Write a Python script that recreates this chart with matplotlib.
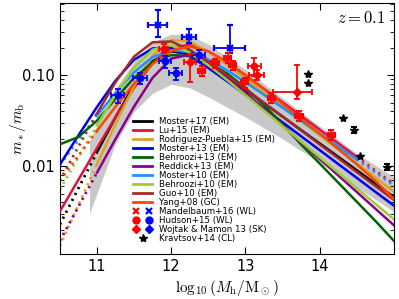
import numpy as np
import matplotlib
matplotlib.use("Agg")
import matplotlib.pyplot as plt
from matplotlib.lines import Line2D
from matplotlib.legend_handler import HandlerTuple
from matplotlib.ticker import FixedLocator, FixedFormatter, LogLocator, NullFormatter

plt.rcParams['mathtext.fontset'] = 'cm'

# halo mass grid, log10(Mh/Msun)
log_mh = [10.5, 10.75, 11.0, 11.25, 11.5, 11.75, 12.0, 12.25, 12.5, 12.75,
          13.0, 13.25, 13.5, 13.75, 14.0, 14.25, 14.5, 14.75, 15.0]

# log10(m*/mb) of each model
moster17 = [-2.642, -2.243, -1.847, -1.462, -1.110, -0.847, -0.737, -0.772, -0.881, -1.017,
            -1.161, -1.308, -1.455, -1.603, -1.750, -1.897, -2.045, -2.192, -2.340]
lu15 = [-2.498, -2.149, -1.802, -1.461, -1.139, -0.867, -0.699, -0.667, -0.739, -0.861,
        -1.002, -1.149, -1.298, -1.448, -1.598, -1.748, -1.898, -2.048, -2.198]
rodriguez15 = [-2.877, -2.427, -1.979, -1.538, -1.121, -0.783, -0.615, -0.631, -0.744, -0.887,
               -1.039, -1.194, -1.349, -1.504, -1.659, -1.814, -1.969, -2.124, -2.279]
moster13 = [-1.983, -1.662, -1.350, -1.061, -0.831, -0.707, -0.706, -0.793, -0.921, -1.065,
            -1.215, -1.366, -1.518, -1.671, -1.823, -1.976, -2.128, -2.281, -2.433]
behroozi13 = [-1.76, -1.68, -1.50, -1.26, -1.03, -0.86, -0.78, -0.79, -0.86, -0.98,
              -1.14, -1.33, -1.54, -1.76, -1.97, -2.18, -2.39, -2.60, -2.82]
reddick13 = [-2.820, -2.445, -2.072, -1.702, -1.345, -1.029, -0.819, -0.774, -0.864, -1.018,
             -1.192, -1.372, -1.554, -1.736, -1.918, -2.101, -2.283, -2.466, -2.648]
moster10 = [-1.986, -1.714, -1.447, -1.193, -0.968, -0.802, -0.726, -0.744, -0.827, -0.944,
            -1.077, -1.216, -1.357, -1.499, -1.641, -1.783, -1.926, -2.068, -2.211]
behroozi10 = [-2.258, -1.902, -1.551, -1.213, -0.918, -0.721, -0.674, -0.751, -0.890, -1.051,
              -1.219, -1.389, -1.559, -1.730, -1.901, -2.071, -2.242, -2.413, -2.584]
guo10 = [-2.158, -1.786, -1.421, -1.078, -0.796, -0.639, -0.630, -0.721, -0.853, -1.000,
         -1.150, -1.302, -1.455, -1.607, -1.760, -1.912, -2.065, -2.217, -2.370]
yang08 = [-2.159, -1.885, -1.613, -1.347, -1.095, -0.878, -0.730, -0.685, -0.738, -0.853,
          -0.998, -1.154, -1.315, -1.478, -1.641, -1.810, -1.980, -2.160, -2.360]

# grey band
band_mh = [10.9, 11.0, 11.25, 11.5, 11.75, 12.0, 12.25, 12.5, 13.0, 13.5, 14.0, 14.5, 15.0]
band_hi = [-1.72, -1.55, -1.15, -0.85, -0.64, -0.55, -0.56, -0.66, -0.94, -1.25, -1.56, -1.86, -2.12]
band_lo = [-2.52, -2.30, -1.75, -1.40, -1.20, -1.10, -1.14, -1.24, -1.46, -1.70, -1.96, -2.23, -2.50]

# observations
mand_blue_x = [11.82, 12.24, 12.79]
mand_blue_y = [0.355, 0.26, 0.20]
mand_blue_xerr = [0.13, 0.09, 0.21]
mand_blue_ylo = [0.092, 0.036, 0.026]
mand_blue_yhi = [0.158, 0.064, 0.155]

hud_blue_x = [11.28, 11.58, 11.92, 12.06, 12.37]
hud_blue_y = [0.060, 0.093, 0.142, 0.105, 0.166]
hud_blue_xerr = [0.09, 0.09, 0.08, 0.09, 0.09]
hud_blue_yerr = [0.010, 0.013, 0.022, 0.016, 0.025]

mand_red_x = [12.41, 12.59, 12.76, 12.83, 12.99, 13.35, 13.72, 14.16]
mand_red_y = [0.112, 0.135, 0.155, 0.129, 0.083, 0.056, 0.036, 0.022]
mand_red_xerr = [0.05, 0.05, 0.05, 0.05, 0.05, 0.05, 0.05, 0.05]
mand_red_yerr = [0.013, 0.016, 0.018, 0.015, 0.010, 0.007, 0.0045, 0.0028]

hud_red_x = [11.90, 13.12]
hud_red_y = [0.195, 0.125]
hud_red_xerr = [0.06, 0.09]
hud_red_yerr = [0.022, 0.028]

wm_red_x = [12.25, 13.15, 13.69]
wm_red_y = [0.140, 0.100, 0.065]
wm_red_xlo = [0.08, 0.10, 0.32]
wm_red_xhi = [0.08, 0.10, 0.21]
wm_red_ylo = [0.057, 0.012, 0.011]
wm_red_yhi = [0.030, 0.015, 0.064]

krav_x = [13.85, 13.85, 14.31, 14.46, 14.55, 14.91]
krav_y = [0.103, 0.082, 0.034, 0.025, 0.013, 0.0098]
krav_yerr = [0.0, 0.0, 0.0, 0.0018, 0.0, 0.0008]

models = [
    ("Moster+17 (EM)", moster17, "black", "low"),
    ("Lu+15 (EM)", lu15, "#dc143c", "high"),
    ("Rodriguez-Puebla+15 (EM)", rodriguez15, "#daa520", "low"),
    ("Moster+13 (EM)", moster13, "#0000ee", None),
    ("Behroozi+13 (EM)", behroozi13, "#006400", None),
    ("Reddick+13 (EM)", reddick13, "#8b008b", "low"),
    ("Moster+10 (EM)", moster10, "#1e90ff", "both"),
    ("Behroozi+10 (EM)", behroozi10, "#9acd32", "low"),
    ("Guo+10 (EM)", guo10, "#a52a2a", "low"),
    ("Yang+08 (GC)", yang08, "#ff4500", "low"),
]

fig = plt.figure(figsize=(3.99, 2.99), dpi=100)
ax = fig.add_axes([0.150, 0.150, 0.837, 0.840])

ax.fill_between(band_mh, 10 ** np.array(band_lo), 10 ** np.array(band_hi),
                color="#c8c8c8", lw=0, zorder=1)

xm = np.array(log_mh)
handles = []
for name, vals, col, dot in models:
    y = 10 ** np.array(vals)
    i0, i1 = 0, len(xm)
    if dot in ("low", "both"):
        i0 = 2
        ax.plot(xm[:3], y[:3], color=col, lw=2, ls=(0, (0.8, 1.6)), zorder=2)
    if dot in ("high", "both"):
        i1 = 17
        ax.plot(xm[16:], y[16:], color=col, lw=2, ls=(0, (0.8, 1.6)), zorder=2)
    ax.plot(xm[i0:i1], y[i0:i1], color=col, lw=1.8, zorder=3)
    handles.append(Line2D([], [], color=col, lw=2))

ekw = dict(ls="none", elinewidth=1.3, capsize=2.5, capthick=1.3, zorder=5)
ax.errorbar(mand_blue_x, mand_blue_y, xerr=mand_blue_xerr,
            yerr=[mand_blue_ylo, mand_blue_yhi], color="blue", marker="x", ms=5, mew=1.6, **ekw)
ax.errorbar(hud_blue_x, hud_blue_y, xerr=hud_blue_xerr, yerr=hud_blue_yerr,
            color="blue", marker="o", ms=4.5, **ekw)
ax.errorbar(mand_red_x, mand_red_y, xerr=mand_red_xerr, yerr=mand_red_yerr,
            color="red", marker="x", ms=4, mew=1.5, **ekw)
ax.errorbar(hud_red_x, hud_red_y, xerr=hud_red_xerr, yerr=hud_red_yerr,
            color="red", marker="o", ms=4.5, **ekw)
ax.errorbar(wm_red_x, wm_red_y, xerr=[wm_red_xlo, wm_red_xhi], yerr=[wm_red_ylo, wm_red_yhi],
            color="red", marker="D", ms=4, **ekw)
ax.errorbar(krav_x, krav_y, yerr=krav_yerr, ls="none", marker="*", color="black", ms=6,
            elinewidth=1.2, capsize=2.5, capthick=1.5, zorder=5)

ax.set_yscale("log")
ax.set_xlim(10.5, 15.0)
ax.set_ylim(1.08e-3, 0.62)
ax.xaxis.set_major_locator(FixedLocator([11, 12, 13, 14]))
ax.xaxis.set_minor_locator(FixedLocator([]))
ax.yaxis.set_major_locator(FixedLocator([0.01, 0.1]))
ax.yaxis.set_major_formatter(FixedFormatter(["0.01", "0.10"]))
ax.yaxis.set_minor_locator(LogLocator(base=10, subs=np.arange(2, 10)))
ax.yaxis.set_minor_formatter(NullFormatter())
ax.tick_params(which="both", direction="in", top=True, right=True, labelsize=10.5)
ax.tick_params(which="major", length=5)
ax.tick_params(which="minor", length=3)

ax.set_xlabel(r"$\log_{10}(M_\mathrm{h}/\mathrm{M}_\odot)$", fontsize=11, labelpad=3)
ax.set_ylabel(r"$m_*/m_\mathrm{b}$", fontsize=11)
ax.yaxis.set_label_coords(-0.095, 0.5)
ax.text(0.975, 0.975, r"$z=0.1$", transform=ax.transAxes, ha="right", va="top", fontsize=12)

def pair(m, **kw):
    return (Line2D([], [], ls="none", marker=m, color="red", **kw),
            Line2D([], [], ls="none", marker=m, color="blue", **kw))

handles += [pair("x", ms=5, mew=1.6), pair("o", ms=5), pair("D", ms=4.5),
            Line2D([], [], ls="none", marker="*", color="black", ms=6)]
labels = [m[0] for m in models] + ["Mandelbaum+16 (WL)", "Hudson+15 (WL)",
                                   "Wojtak & Mamon 13 (SK)", "Kravtsov+14 (CL)"]
ax.legend(handles, labels, loc="lower left", bbox_to_anchor=(0.218, 0.045),
          frameon=False, fontsize=6.2, handlelength=2.3, handletextpad=0.8,
          labelspacing=0.0, borderpad=0.0, borderaxespad=0.0,
          handler_map={tuple: HandlerTuple(ndivide=None, pad=0.6)})

fig.savefig("out.png", dpi=100)
